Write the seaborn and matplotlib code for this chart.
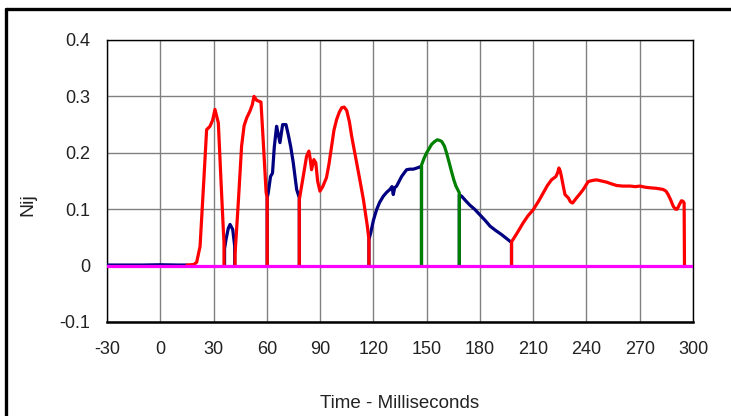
import numpy as np
import pandas as pd
import seaborn as sns
import matplotlib.pyplot as plt
from matplotlib.lines import Line2D

# Nij injury criteria traces, one list pair per segment (time in ms, Nij value)
# red segments
red_t1 = [15.0, 19.0, 20.5, 22.4, 24.5, 26.1, 28.0, 29.5, 30.8, 32.7, 34.2, 35.5, 35.9, 35.9]
red_v1 = [0.001, 0.002, 0.006, 0.034, 0.15, 0.241, 0.247, 0.258, 0.277, 0.253, 0.15, 0.064, 0.04, 0.0]
red_t2 = [42.1, 42.1, 43.9, 45.8, 47.2, 48.7, 50.5, 51.8, 52.8, 54.3, 56.7, 58.0, 59.6, 60.2, 60.2]
red_v2 = [0.0, 0.02, 0.11, 0.212, 0.248, 0.262, 0.274, 0.285, 0.300, 0.293, 0.29, 0.22, 0.13, 0.12, 0.0]
red_t3 = [78.3, 78.3, 80.5, 82.4, 83.7, 84.4, 85.2, 86.5, 87.6, 88.6, 89.9, 91.5, 93.6, 95.0, 96.5,
          97.8, 99.3, 100.8, 102.2, 103.6, 105.0, 106.5, 107.8, 110.6, 112.5, 114.4, 116.6, 117.5, 117.5]
red_v3 = [0.0, 0.117, 0.158, 0.194, 0.203, 0.19, 0.17, 0.188, 0.182, 0.15, 0.132, 0.14, 0.156, 0.18, 0.212,
          0.24, 0.259, 0.272, 0.28, 0.281, 0.275, 0.255, 0.229, 0.182, 0.15, 0.117, 0.07, 0.046, 0.0]
red_t4 = [197.8, 197.8, 201.0, 204.4, 207.0, 210.0, 213.0, 215.7, 218.0, 220.3, 222.8, 223.8, 224.5,
          225.2, 225.9, 227.0, 227.9, 229.8, 231.0, 232.2, 234.4, 236.5, 238.2, 241.0, 243.5, 245.7,
          248.5, 251.3, 254.0, 257.0, 260.5, 264.5, 267.5, 270.1, 273.0, 275.7, 279.5, 283.2, 284.8,
          286.0, 287.5, 288.9, 290.2, 291.1, 292.3, 293.5, 294.4, 295.0, 295.2]
red_v4 = [0.0, 0.042, 0.058, 0.076, 0.088, 0.099, 0.114, 0.129, 0.142, 0.152, 0.158, 0.165, 0.173,
          0.168, 0.158, 0.14, 0.126, 0.12, 0.113, 0.111, 0.12, 0.128, 0.135, 0.149, 0.151, 0.152,
          0.150, 0.148, 0.145, 0.142, 0.141, 0.141, 0.14, 0.141, 0.139, 0.138, 0.137, 0.135, 0.132,
          0.126, 0.116, 0.105, 0.1, 0.1, 0.108, 0.115, 0.114, 0.111, 0.0]

# navy segments
blue_t0 = [-30.0, -20.0, -10.0, 0.0, 10.0, 15.0]
blue_v0 = [0.001, 0.001, 0.001, 0.0015, 0.001, 0.001]
blue_t1 = [36.2, 36.2, 37.0, 38.3, 39.3, 40.8, 41.7, 41.9, 41.9]
blue_v1 = [0.0, 0.03, 0.046, 0.066, 0.073, 0.064, 0.04, 0.035, 0.0]
blue_t2 = [60.2, 60.2, 60.8, 62.1, 63.2, 64.2, 65.5, 66.3, 67.4, 68.9, 70.8, 72.1, 73.5, 74.9, 76.8, 78.3, 78.3]
blue_v2 = [0.0, 0.12, 0.129, 0.158, 0.164, 0.21, 0.247, 0.235, 0.218, 0.25, 0.25, 0.232, 0.21, 0.182, 0.135, 0.12, 0.0]
blue_t3 = [117.5, 117.5, 118.5, 120.0, 121.8, 123.5, 125.6, 127.5, 129.3, 130.5, 131.2, 132.0, 133.1,
           135.9, 138.7, 140.5, 142.5, 144.5, 146.2, 147.1, 147.1]
blue_v3 = [0.0, 0.046, 0.058, 0.08, 0.099, 0.112, 0.123, 0.13, 0.135, 0.14, 0.126, 0.138, 0.141,
           0.158, 0.17, 0.171, 0.171, 0.173, 0.175, 0.176, 0.0]
blue_t4 = [168.4, 168.4, 170.0, 172.0, 174.4, 177.0, 180.0, 183.0, 185.7, 189.0, 192.2, 195.0, 197.8, 197.8]
blue_v4 = [0.0, 0.126, 0.122, 0.115, 0.107, 0.1, 0.09, 0.08, 0.07, 0.062, 0.055, 0.048, 0.041, 0.0]

# green segment
green_t1 = [147.1, 147.1, 148.5, 150.0, 151.5, 152.8, 154.5, 156.0, 157.3, 158.5, 160.0, 161.2,
            162.5, 164.0, 165.3, 166.5, 168.4, 168.4]
green_v1 = [0.0, 0.178, 0.19, 0.2, 0.208, 0.215, 0.22, 0.223, 0.222, 0.22, 0.212, 0.2,
            0.185, 0.167, 0.152, 0.141, 0.129, 0.0]

# magenta (stays at zero)
mag_t = [-30.0, 300.0]
mag_v = [0.0, 0.0]

segments = [
    ("NTF", blue_t0, blue_v0), ("NTF", blue_t1, blue_v1), ("NTF", blue_t2, blue_v2),
    ("NTF", blue_t3, blue_v3), ("NTF", blue_t4, blue_v4),
    ("NCE", green_t1, green_v1),
    ("NTE", red_t1, red_v1), ("NTE", red_t2, red_v2), ("NTE", red_t3, red_v3), ("NTE", red_t4, red_v4),
    ("NCF", mag_t, mag_v),
]

rows = []
for i, (name, t, v) in enumerate(segments):
    assert len(t) == len(v), (name, i)
    for a, b in zip(t, v):
        rows.append({"time": a, "nij": b, "criterion": name, "seg": i})
df = pd.DataFrame(rows)

palette = {"NTF": "#000080", "NCE": "#008000", "NTE": "#ff0000", "NCF": "#ff00ff"}

sns.set_style("white")
plt.rcParams["font.family"] = ["Liberation Sans", "DejaVu Sans"]
plt.rcParams["axes.unicode_minus"] = False

fig = plt.figure(figsize=(7.31, 4.16), dpi=100)
ax = fig.add_axes([107 / 731, 94 / 416, 586 / 731, 282 / 416])

sns.lineplot(data=df, x="time", y="nij", hue="criterion", units="seg", estimator=None,
             hue_order=["NTF", "NCE", "NTE", "NCF"], palette=palette, sort=False,
             linewidth=2.3, legend=False, ax=ax, zorder=3)

ax.set_xlim(-30, 300)
ax.set_ylim(-0.1, 0.4)
ax.set_xticks(np.arange(-30, 301, 30))
ax.set_yticks([-0.1, 0, 0.1, 0.2, 0.3, 0.4])
ax.set_yticklabels(["-0.1", "0", "0.1", "0.2", "0.3", "0.4"])
ax.grid(True, color="#808080", linewidth=1.0)
ax.set_axisbelow(True)
for s in ax.spines.values():
    s.set_color("black")
    s.set_linewidth(1.0)
ax.spines["bottom"].set_linewidth(1.8)
ax.tick_params(direction="out", length=5, width=1, color="black", labelsize=13, labelcolor="#222222", pad=7)
ax.tick_params(axis="x", pad=9)

ax.set_xlabel("Time - Milliseconds", fontsize=13.5, color="#222222")
ax.set_ylabel("Nij", fontsize=14, color="#222222")
ax.xaxis.set_label_coords(0.5, (322 - 403) / 282)
ax.xaxis.label.set_va("center")
ax.yaxis.set_label_coords((28 - 107) / 586, (322 - 205) / 282)
ax.yaxis.label.set_va("center")

# outer frame (left and top edges)
fig.add_artist(Line2D([6 / 731, 6 / 731], [0, 1 - 9 / 416], transform=fig.transFigure, color="black", linewidth=2.4))
fig.add_artist(Line2D([6 / 731, 1], [1 - 9 / 416, 1 - 9 / 416], transform=fig.transFigure, color="black", linewidth=2.4))

fig.savefig("out.png", dpi=100)
